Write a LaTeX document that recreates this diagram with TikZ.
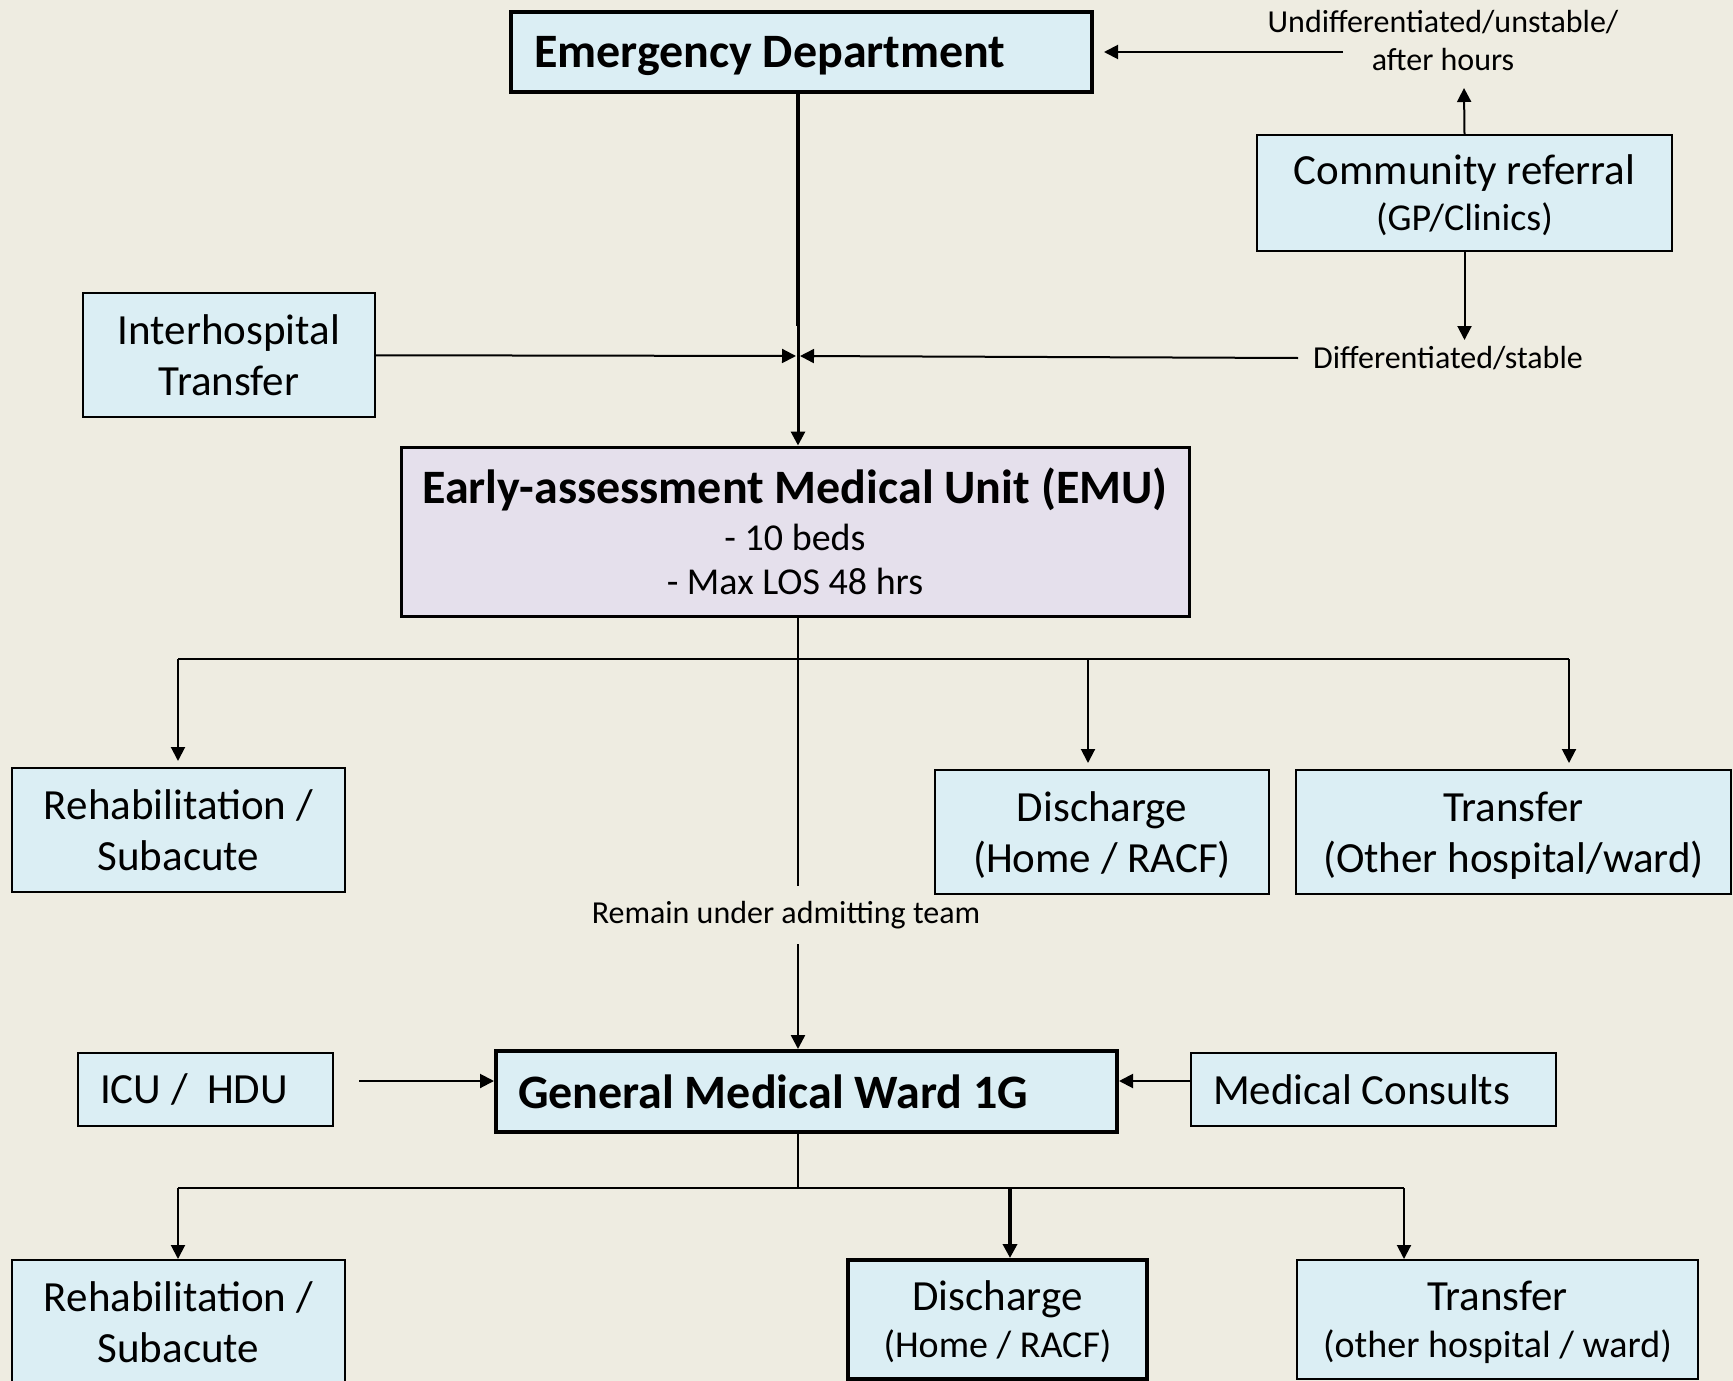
\documentclass[tikz,border=0pt]{standalone}
\usepackage{fontspec}
\setmainfont{Carlito}
\usetikzlibrary{arrows.meta}
\definecolor{paper}{HTML}{EEECE1}
\definecolor{boxblue}{HTML}{DBEEF4}
\definecolor{boxlilac}{HTML}{E5E0EC}
\newcommand{\flatline}[1]{\raisebox{0pt}[\height][0pt]{#1}}
\newcommand{\minor}{\fontsize{38}{44}\selectfont}

\begin{document}
\begin{tikzpicture}[x=1pt, y=-1pt,
  main/.style = {draw, fill=boxblue, line width=2pt, align=center, inner sep=0pt, font=\fontsize{43}{51}\selectfont},
  lead/.style = {main, line width=4pt, align=flush left, text depth=0pt, font=\bfseries\fontsize{48}{55}\selectfont},
  note/.style = {align=center, inner sep=0pt, font=\fontsize{32}{38}\selectfont},
  arr/.style = {-{Triangle[length=14pt, width=14pt]}, line width=2pt}]
\fill[paper] (0,0) rectangle (1733,1381);
\useasboundingbox (0,0) rectangle (1733,1381);

% top row
\node[lead, text width=535, inner xsep=23, minimum height=80] (ed) at (801.5,52) {Emergency Department};
\node[note] (ul) at (1443,41) {Undifferentiated/unstable/\\after hours};
\node[main, minimum width=415, minimum height=116, font=\fontsize{43}{46}\selectfont] (cr) at (1464.5,193) {Community referral\\{\minor\flatline{(GP/Clinics)}}};
\node[note, inner xsep=15, inner ysep=6] (dl) at (1448,358) {Differentiated/stable};
\node[main, minimum width=292, minimum height=124] (ih) at (229,355) {Interhospital\\Transfer};

% EMU
\node[main, fill=boxlilac, line width=3pt, minimum width=788, minimum height=169, font=\minor] (emu) at (795,531.5) {{\bfseries\fontsize{48}{51}\selectfont Early-assessment Medical Unit (EMU)}\\[3.5pt]- 10 beds\\- Max LOS 48 hrs};
\node[main, minimum width=333, minimum height=124] (rh1) at (178.5,830) {Rehabilitation /\\Subacute};
\node[main, minimum width=334, minimum height=124] (dc1) at (1102,832) {Discharge\\\flatline{(Home / RACF)}};
\node[main, minimum width=435, minimum height=124] (tr1) at (1513.5,832) {Transfer\\\flatline{(Other hospital/ward)}};
\node[note, inner sep=15] (rm) at (786,915) {Remain under admitting team};

% ward
\node[lead, text width=577, inner xsep=22, minimum height=81] (gmw) at (806.5,1091.5) {General Medical Ward 1G};
\node[main, align=flush left, text width=211, inner xsep=22, minimum height=73] (icu) at (205.5,1089.5) {ICU /\ \ HDU};
\node[main, align=flush left, text width=321, inner xsep=22, minimum height=73] (mc) at (1373.5,1089.5) {Medical Consults};
\node[main, minimum width=333, minimum height=124] (rh2) at (178.5,1322) {Rehabilitation /\\Subacute};
\node[main, line width=4pt, minimum width=299, minimum height=119, font=\fontsize{43}{47}\selectfont] (dc2) at (997.5,1319.5) {Discharge\\{\minor\flatline{(Home / RACF)}}};
\node[main, minimum width=401, minimum height=119, font=\fontsize{43}{47}\selectfont] (tr2) at (1497.5,1319.5) {Transfer\\{\minor\flatline{(other hospital / ward)}}};

% way in
\coordinate (top) at (798,326);
\coordinate (mid) at (798,356);
\coordinate (ustart) at (1343,52);
\coordinate (up) at (1464,88);
\draw[line width=4.5pt] (ed.south -| top) -- (top);
\draw[arr, line width=3pt] (top) -- (emu.north -| top);
\draw[arr, shorten >=2] (ih) -- (mid);
\draw[arr, shorten >=2] (dl.west) -- (mid);
\draw[arr, shorten >=10] (ustart) -- (ed.east |- ustart);
\draw[arr] (cr.north) -- (up);
\draw[arr] (cr.south) -- (dl.north -| cr.south);

% out of EMU
\coordinate (b1) at (178,659);
\coordinate (b2) at (798,659);
\coordinate (b3) at (1088,659);
\coordinate (b4) at (1569,659);
\draw[line width=2.5pt] (emu.south -| b2) -- (rm.north -| b2);
\draw[line width=2pt] (b1) -- (b4);
\draw[arr, shorten >=6] (b1) -- (rh1.north -| b1);
\draw[arr, shorten >=6] (b3) -- (dc1.north -| b3);
\draw[arr, shorten >=6] (b4) -- (tr1.north -| b4);
\draw[arr, line width=2.5pt] (rm.south -| b2) -- (gmw.north -| b2);

% into and out of ward
\coordinate (a1) at (359,1081);
\draw[arr] (a1) -- (gmw.west |- a1);
\draw[arr] (mc.west |- a1) -- (gmw.east |- a1);
\coordinate (c1) at (178,1188);
\coordinate (c2) at (798,1188);
\coordinate (c3) at (1010,1188);
\coordinate (c4) at (1404,1188);
\draw[line width=1.5pt] (gmw.south -| c2) -- (c2);
\draw[line width=2.5pt] (c1) -- (c4);
\draw[arr] (c1) -- (rh2.north -| c1);
\draw[arr, line width=3.5pt] (c3) -- (dc2.north -| c3);
\draw[arr] (c4) -- (tr2.north -| c4);
\end{tikzpicture}
\end{document}
